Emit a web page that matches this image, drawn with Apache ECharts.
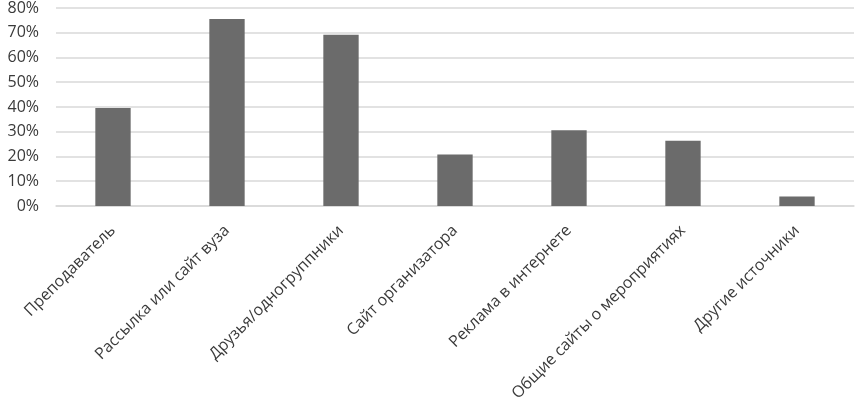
<!DOCTYPE html>
<html>
<head>
<meta charset="utf-8">
<script src="https://cdn.jsdelivr.net/npm/echarts@6/dist/echarts.min.js"></script>
<style>
  html, body { margin: 0; padding: 0; background: #fff; }
  #chart { width: 860px; height: 404px; }
</style>
</head>
<body>
<div id="chart"></div>
<script>
// Источники информации о мероприятиях
const categories = [
  "Преподаватель",
  "Рассылка или сайт вуза",
  "Друзья/одногруппники",
  "Сайт организатора",
  "Реклама в интернете",
  "Общие сайты о мероприятиях",
  "Другие источники",
];
const values = [39.6, 75.6, 69.2, 20.8, 30.6, 26.4, 3.8];
const yTicks = [0, 10, 20, 30, 40, 50, 60, 70, 80];

const chart = echarts.init(document.getElementById("chart"));
const option = {
  animation: false,
  grid: { left: 56, right: 6, top: 8, bottom: 198, containLabel: false },
  xAxis: {
    type: "category",
    data: categories,
    axisLine: { lineStyle: { color: "#d9d9d9", width: 1.5 } },
    axisTick: { show: false },
    axisLabel: {
      rotate: 45,
      interval: 0,
      margin: 22,
      fontFamily: "Open Sans",
      fontSize: 16,
      color: "#3a3a3a",
    },
  },
  yAxis: {
    type: "value",
    min: yTicks[0],
    max: yTicks[yTicks.length - 1],
    interval: 10,
    axisLine: { show: false },
    axisTick: { show: false },
    splitLine: { lineStyle: { color: "#d9d9d9", width: 1.5 } },
    axisLabel: {
      margin: 17,
      fontFamily: "Open Sans",
      fontSize: 16,
      color: "#3a3a3a",
      formatter: (v) => v + "%",
    },
  },
  series: [
    {
      type: "bar",
      data: values,
      barWidth: "31%",
      itemStyle: { color: "#6b6b6b" },
    },
  ],
};
chart.setOption(option);
</script>
</body>
</html>
